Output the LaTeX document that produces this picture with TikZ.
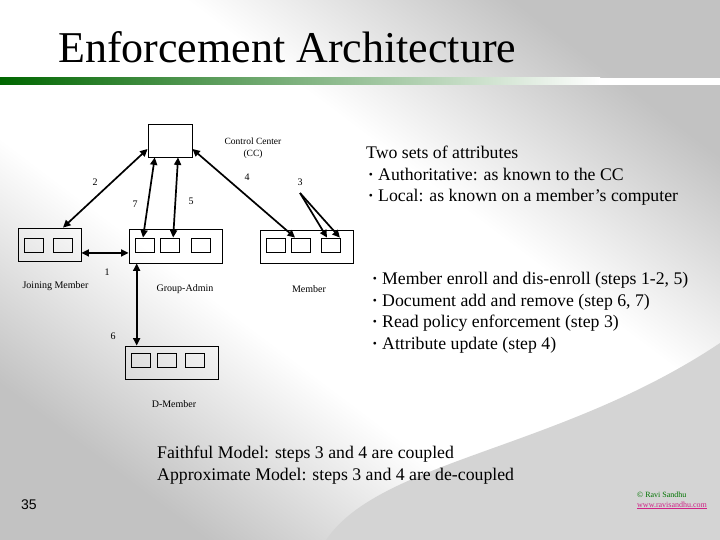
\documentclass[tikz,border=0pt]{standalone}
\usepackage{fontspec}
\usepackage{graphicx}
\setmainfont{Liberation Serif}
\newfontfamily\sansf{Liberation Sans}
\usetikzlibrary{arrows.meta,calc}
\newcommand\bul{\raisebox{0.22ex}{\scalebox{0.65}{•}}}
\definecolor{bgg}{gray}{0.76}
\pgfdeclareverticalshading{bgsh}{100bp}{color(0bp)=(bgg); color(25bp)=(bgg); color(41bp)=(white); color(59bp)=(white); color(75bp)=(bgg); color(100bp)=(bgg)}
\begin{document}
\begin{tikzpicture}[x=1pt,y=-1pt,
 box/.style={draw,line width=0.8pt,minimum width=93pt,minimum height=33pt,inner sep=0pt},
 sq/.style={draw,line width=0.8pt,minimum width=19pt,minimum height=14pt,inner sep=0pt},
 arr/.style={line width=1.7pt,{Triangle[length=7.5pt,width=7pt]}-{Triangle[length=7.5pt,width=7pt]}},
 arrone/.style={line width=1.7pt,-{Triangle[length=7.5pt,width=7pt]}},
 num/.style={font=\fontsize{10}{12}\selectfont,inner sep=0pt},
 lab/.style={font=\fontsize{10}{12}\selectfont,inner sep=0pt},
 body/.style={font=\fontsize{17.75}{21}\selectfont,anchor=base west,inner sep=0pt},
 bulnode/.style={font=\fontsize{17.75}{21}\selectfont,anchor=base,inner sep=0pt},
]
\useasboundingbox (0,0) rectangle (720,540);
% background
\shade[shading=bgsh, shading angle=-37] (0,0) rectangle (720,540);
\fill[black!17] (326,540) .. controls (380,460) and (560,450) .. (720,343) -- (720,540) -- cycle;
% title bar
\shade[left color=green!40!black, right color=white] (0,78) rectangle (600,85);
\fill[white] (600,78) rectangle (720,85);
\node[anchor=base west,font=\fontsize{44}{50}\selectfont,inner sep=0pt] (title) at (58,63) {Enforcement Architecture};

% boxes
\node[draw,line width=0.8pt,fill=white,minimum width=44pt,minimum height=33pt,inner sep=0pt] (cc) at (170,140.5) {};
\node[fill=white,minimum width=77pt,minimum height=29pt,inner sep=0pt,align=center,font=\fontsize{9.5}{12}\selectfont] (cclab) at (253,148) {Control Center\\(CC)};

\node[box,minimum width=63pt] (jm) at (49.5,244.5) {};
\node[sq] (jm1) at (33.5,245) {};
\node[sq] (jm2) at (63,245) {};

\node[box,minimum height=34pt] (ga) at (175.5,246) {};
\node[sq] (ga1) at (145,245) {};
\node[sq] (ga2) at (170,245) {};
\node[sq] (ga3) at (201,245) {};

\node[box] (mb) at (306.5,246.5) {};
\node[sq] (mb1) at (276,245) {};
\node[sq] (mb2) at (301,245) {};
\node[sq] (mb3) at (331,245) {};

\node[box] (dm) at (171.5,362.5) {};
\node[sq] (dm1) at (141,360) {};
\node[sq] (dm2) at (166.5,360) {};
\node[sq] (dm3) at (194.5,360) {};

% labels
\node[lab] (ljm) at (55.5,286) {Joining Member};
\node[lab] (lga) at (185,289) {Group-Admin};
\node[lab] (lmb) at (309,289) {Member};
\node[lab] (ldm) at (174,404) {D-Member};

% step numbers
\node[num] (n2) at (95,182) {2};
\node[num] (n7) at (135,204) {7};
\node[num] (n5) at (191,201) {5};
\node[num] (n4) at (247,177) {4};
\node[num] (n3) at (300,182) {3};
\node[num] (n1) at (107,272) {1};
\node[num] (n6) at (113,336) {6};

% connectors
\draw[arr] ($(cc.west)!0.5!(cc.south west)$) -- (jm2 |- jm.north);
\draw[arr] ($(cc.south west)!0.16!(cc.south east)$) -- ($(ga1.north west)!0.4!(ga1.north east)$);
\draw[arr] ($(cc.south west)!0.68!(cc.south east)$) -- ($(ga2.north west)!0.66!(ga2.north east)$);
\draw[arr] ($(cc.east)!0.5!(cc.south east)$) -- ($(mb2.north west)!0.2!(mb2.north east)$);
\coordinate (s3) at (300,193);
\draw[arrone] (s3) -- ($(mb3.north west)!0.3!(mb3.north east)$);
\draw[arrone] (s3) -- ($(mb3.north west)!0.95!(mb3.north east)$);
\coordinate (j1) at ($(jm.east)!0.5!(jm.south east)$);
\draw[arr] (j1) -- (j1 -| ga.west);
\coordinate (g6) at ($(ga.south west)!0.086!(ga.south east)$);
\draw[arr] (g6) -- (g6 |- dm.north);

% right text block 1
\node[body] (a0) at (366,158.5) {Two sets of attributes};
\node[bulnode] (a1b) at (371,180.5) {\bul};
\node[body] (a1) at (378,180.5) {Authoritative: as known to the CC};
\node[bulnode] (a2b) at (371,201.5) {\bul};
\node[body] (a2) at (378,201.5) {Local: as known on a member’s computer};

% right text block 2
\node[bulnode] (b1b) at (375,284.5) {\bul};
\node[body] (b1) at (382,284.5) {Member enroll and dis-enroll (steps 1-2, 5)};
\node[bulnode] (b2b) at (375,306) {\bul};
\node[body] (b2) at (382,306) {Document add and remove (step 6, 7)};
\node[bulnode] (b3b) at (375,327.5) {\bul};
\node[body] (b3) at (382,327.5) {Read policy enforcement (step 3)};
\node[bulnode] (b4b) at (375,349) {\bul};
\node[body] (b4) at (382,349) {Attribute update (step 4)};

% bottom text
\node[body] (f1) at (157,458.5) {Faithful Model: steps 3 and 4 are coupled};
\node[body] (f2) at (157,480.5) {Approximate Model: steps 3 and 4 are de-coupled};

% footer
\node[anchor=base west,inner sep=0pt,font=\sansf\fontsize{14}{16}\selectfont] (pg) at (21,509) {35};
\node[anchor=base west,inner sep=0pt,font=\fontsize{8}{9}\selectfont,text=green!45!black] (cp) at (637,497) {© Ravi Sandhu};
\node[anchor=base west,inner sep=0pt,font=\fontsize{8}{9}\selectfont,text=magenta!85!black] (url) at (637,507) {\underline{www.ravisandhu.com}};
\end{tikzpicture}
\end{document}
